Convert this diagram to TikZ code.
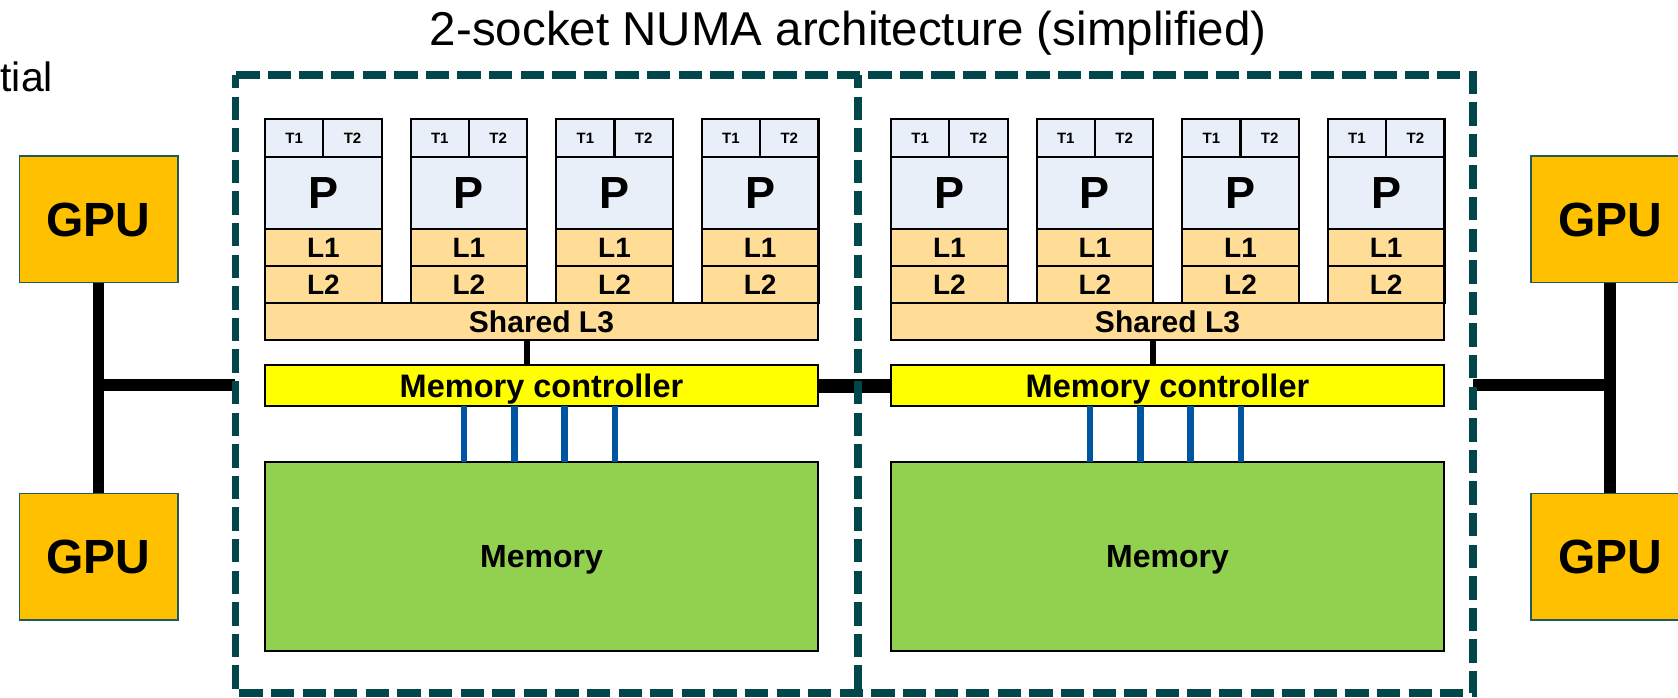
\documentclass[tikz,border=0pt]{standalone}
\usepackage{fontspec}
\setmainfont{Liberation Sans}
\definecolor{corefill}{HTML}{E9EFF8}
\definecolor{cachefill}{HTML}{FFDD96}
\definecolor{mcfill}{HTML}{FFFF00}
\definecolor{memfill}{HTML}{92D050}
\definecolor{gpufill}{HTML}{FFC000}
\definecolor{gpuedge}{HTML}{215A5C}
\definecolor{chanblue}{HTML}{0055A2}
\definecolor{socketteal}{HTML}{00464B}
\begin{document}
\begin{tikzpicture}[x=1pt,y=-1pt,
  every node/.style={inner sep=0pt, outer sep=0pt},
  txt/.style={font=\fontsize{#1pt}{#1pt}\selectfont\bfseries, text height=0.716*#1pt, text depth=0pt},
  cellbox/.style={draw=black, line width=2.2pt, anchor=north west},
  corebox/.style={cellbox, fill=corefill},
  cachebox/.style={cellbox, fill=cachefill},
  mcbox/.style={cellbox, fill=mcfill},
  membox/.style={cellbox, fill=memfill},
  gpubox/.style={draw=gpuedge, line width=1.6pt, fill=gpufill, anchor=north west,
                 minimum width=158.4pt, minimum height=126.5pt, txt=48},
  bus/.style={draw=black, line width=11.7pt},
  link/.style={draw=black, line width=6.5pt},
  chan/.style={draw=chanblue, line width=6.8pt},
  sockframe/.style={draw=socketteal, line width=7.3pt, dash pattern=on 23.3pt off 8.3pt, dash phase=10pt}]

% page area
\useasboundingbox (0,0) rectangle (1678,697);
\fill[white] (0,0) rectangle (1678,697);

% headings
\node[font=\fontsize{47.5pt}{57pt}\selectfont, anchor=base] (title) at (848.3,45)
  {2-socket NUMA architecture (simplified)};
\node[font=\fontsize{41pt}{49pt}\selectfont, anchor=base east] (sidetext) at (53,91.7) {tial};

% the two sockets
\foreach \s/\sx in {1/0,2/626}{
  \foreach \c in {0,1,2,3}{
    \pgfmathsetmacro\cx{265+\sx+145.6*\c}
    \node[corebox, minimum width=58.35pt, minimum height=37.4pt, txt=15] (t1-\s-\c) at (\cx,119.3) {T1};
    \node[corebox, minimum width=58.35pt, minimum height=37.4pt, txt=15] (t2-\s-\c) at (\cx+58.35,119.3) {T2};
    \node[corebox, minimum width=116.7pt, minimum height=72.3pt, txt=45] (p-\s-\c) at (\cx,156.7) {P};
    \node[cachebox, minimum width=116.7pt, minimum height=36.7pt, txt=28] (la-\s-\c) at (\cx,229) {L1};
    \node[cachebox, minimum width=116.7pt, minimum height=37pt, txt=28] (lb-\s-\c) at (\cx,265.7) {L2};
  }
  \node[cachebox, minimum width=553pt, minimum height=37.3pt, txt=30] (l3-\s) at (265+\sx,302.7) {Shared L3};
  \node[mcbox, minimum width=553pt, minimum height=41pt, txt=32.5] (mc-\s) at (265+\sx,365) {Memory controller};
  \node[membox, minimum width=553pt, minimum height=189pt, txt=32] (mem-\s) at (265+\sx,461.7) {Memory};
  \draw[link] ([xshift=262pt]l3-\s.south west) -- ([xshift=262pt]mc-\s.north west);
  \foreach \o in {199,249.5,299.5,350}
    \draw[chan] ([xshift=\o pt]mc-\s.south west) -- ([xshift=\o pt]mem-\s.north west);
}

% interconnect between the memory controllers
\draw[draw=black, line width=14pt] (mc-1.east) -- (mc-2.west);

% GPUs
\node[gpubox] (gpu-lt) at (19.3,156) {GPU};
\node[gpubox] (gpu-lb) at (19.3,493.3) {GPU};
\node[gpubox] (gpu-rt) at (1531,156) {GPU};
\node[gpubox] (gpu-rb) at (1531,493.3) {GPU};

\coordinate (lj) at (235.3,385);
\coordinate (rj) at (1473,385);
\draw[bus] (gpu-lt.south) -- (gpu-lb.north);
\draw[bus, shorten >=-5.85pt] (lj) -- (lj -| gpu-lt.south);
\draw[bus] (gpu-rt.south) -- (gpu-rb.north);
\draw[bus, shorten >=-5.85pt] (rj) -- (rj -| gpu-rt.south);

% socket boundaries
\draw[sockframe] (235.3,75) rectangle (1473,693);
\draw[sockframe] (858,75) -- (858,693);
\end{tikzpicture}
\end{document}
